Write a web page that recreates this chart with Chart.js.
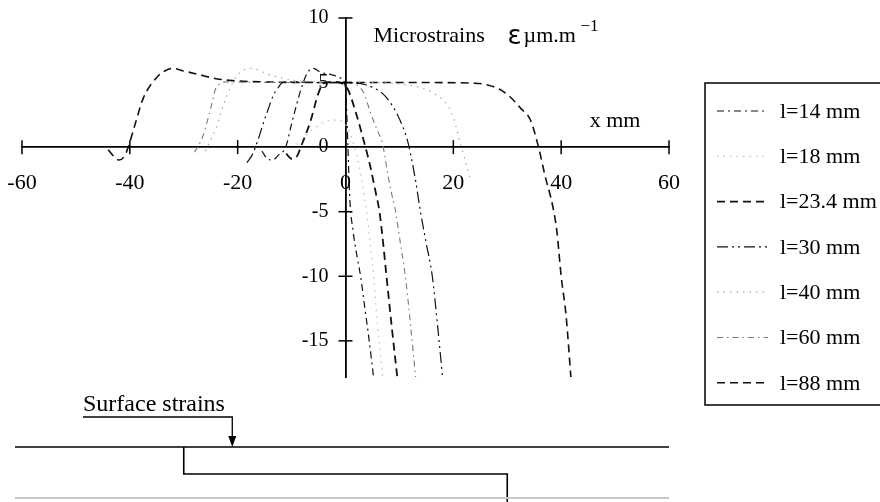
<!DOCTYPE html>
<html>
<head>
<meta charset="utf-8">
<script src="https://cdn.jsdelivr.net/npm/chart.js@4.4.1/dist/chart.umd.min.js"></script>
<style>
  html, body { margin: 0; padding: 0; background: #fff; }
  #wrap { width: 880px; height: 502px; }
</style>
</head>
<body>
<div id="wrap"><canvas id="strainChart" width="880" height="502"></canvas></div>
<script>
// legend labels and axis ticks
const labels = ["l=14 mm", "l=18 mm", "l=23.4 mm", "l=30 mm", "l=40 mm", "l=60 mm", "l=88 mm"];
const xTicks = [-60, -40, -20, 0, 20, 40, 60];
const yTicks = [-15, -10, -5, 0, 5, 10];

// curves (x in mm, microstrain)
const x14 = [-15.5, -14.5, -13.5, -12.4, -11.1, -10, -9, -8, -7, -6, -4.6, -2.5, -0.9, 0, 0.2, 0.45, 0.8, 1.4, 2.2, 2.8, 3.6, 4.4, 5.2];
const y14 = [-0.3, -0.9, -1.0, -0.6, 0, 1.8, 3.4, 4.8, 5.8, 6.1, 5.8, 5.6, 5.35, 4.6, 3.0, 0, -4, -6.5, -8.6, -10, -12.5, -15, -17.8];

const x18 = [-9, -6, -3.5, -1.5, 0.5, 2, 3, 3.9, 4.6, 5.2, 6, 6.9];
const y18 = [0.2, 1.4, 2.0, 2.1, 1.4, -0.5, -2.5, -5, -7.5, -10, -14, -17.8];

const x23 = [-11, -10, -9, -8.3, -6.5, -5, -4, -2, -1, 0.4, 1.9, 3.7, 4.6, 5.5, 6.3, 7.0, 7.6, 8.6, 9.6];
const y23 = [-0.5, -0.9, -0.7, 0, 2.0, 4.2, 4.95, 5.05, 5.0, 4.5, 2.7, 0, -1.5, -3.3, -5, -7.5, -10, -14, -17.8];

const x30 = [-18.3, -17.3, -16.2, -15.2, -14.2, -13.4, -12.5, -11.7, -9, -5, 0, 2, 3.5, 5.2, 7, 8.7, 10.2, 11.5, 12.2, 13, 13.9, 15, 16.1, 17, 18];
const y30 = [-1.2, -0.6, 0.6, 1.9, 3.1, 4.0, 4.6, 5.0, 5.05, 5.0, 5.0, 4.95, 4.85, 4.6, 4.1, 3.2, 2.0, 0.5, -0.8, -2.6, -5, -7.5, -10, -13.5, -17.8];

const x40 = [-26, -24, -22, -20, -17.6, -14, -10, -5, 0, 5, 10, 14, 17, 19, 20, 21.5, 22.6, 23.2];
const y40 = [-0.3, 1.5, 4.0, 5.6, 6.1, 5.6, 5.2, 5.05, 5.0, 5.0, 4.9, 4.6, 4.0, 3.2, 2.3, 0, -1.6, -2.6];

const x60 = [-28, -26.5, -25, -24, -22, -15, -5, 0, 2.2, 3.5, 4.6, 5.8, 6.9, 7.8, 8.5, 9.3, 10.2, 11.1, 12, 13];
const y60 = [-0.4, 0.8, 3.0, 4.6, 5.05, 5.0, 5.0, 5.0, 4.8, 4.1, 2.7, 1.4, 0.2, -2.0, -3.5, -5, -7.5, -10, -13.5, -17.8];

const x88 = [-44, -43, -42, -41, -40.3, -39, -37.5, -35, -33.5, -32, -30, -27, -24, -21, -15, -5, 5, 15, 24, 26.5, 28.5, 30.5, 32.5, 34.3, 35.8, 37, 38.4, 39.2, 40, 40.9, 41.8];
const y88 = [-0.2, -0.7, -1.0, -0.7, 0, 1.8, 3.8, 5.4, 5.9, 6.1, 5.9, 5.6, 5.3, 5.15, 5.05, 5.0, 5.0, 5.0, 4.95, 4.8, 4.5, 3.9, 3.0, 2.1, 0, -2.2, -4.5, -6.5, -10, -13, -17.8];

const seriesX = [x14, x18, x23, x30, x40, x60, x88];
const seriesY = [y14, y18, y23, y30, y40, y60, y88];

const styles = [
  { color: "#111", width: 1.2, dash: [7, 4, 2, 4] },
  { color: "#bdbdbd", width: 1.2, dash: [1.5, 5] },
  { color: "#111", width: 1.8, dash: [8, 5] },
  { color: "#111", width: 1.2, dash: [11, 4, 2, 4, 2, 4] },
  { color: "#a8a8a8", width: 1.2, dash: [1.5, 5] },
  { color: "#7a7a7a", width: 1.1, dash: [6, 4, 1.5, 4] },
  { color: "#111", width: 1.6, dash: [8, 5] }
];

const datasets = labels.map((lab, i) => ({
  label: lab,
  data: seriesX[i].map((v, j) => ({ x: v, y: seriesY[i][j] })),
  borderColor: styles[i].color,
  borderWidth: styles[i].width,
  borderDash: styles[i].dash,
  pointRadius: 0,
  fill: false,
  cubicInterpolationMode: "monotone"
}));

// tick crosses, axis caption, boxed legend and the schematic below
const decor = {
  id: "decor",
  afterDraw(chart) {
    const { ctx, chartArea, scales } = chart;
    const xs = scales.x, ys = scales.y;
    const x0 = xs.getPixelForValue(0), y0 = ys.getPixelForValue(0);
    ctx.save();
    ctx.strokeStyle = "#000";
    ctx.lineWidth = 1.5;
    ctx.setLineDash([]);
    xTicks.forEach(v => {
      if (v === 0) return;
      const px = xs.getPixelForValue(v);
      ctx.beginPath(); ctx.moveTo(px, y0 - 7); ctx.lineTo(px, y0 + 7); ctx.stroke();
    });
    yTicks.forEach(v => {
      if (v === 0) return;
      const py = ys.getPixelForValue(v);
      ctx.beginPath(); ctx.moveTo(x0 - 7, py); ctx.lineTo(x0 + 7, py); ctx.stroke();
    });

    // axis captions
    ctx.fillStyle = "#000";
    ctx.textBaseline = "alphabetic";
    ctx.textAlign = "left";
    ctx.font = "22px 'Liberation Serif'";
    ctx.fillText("Microstrains", x0 + 28, 42);
    ctx.font = "26px 'DejaVu Sans'";
    ctx.fillText("\u03B5", x0 + 162, 44);
    ctx.font = "22px 'Liberation Serif'";
    ctx.fillText("\u00B5m.m", x0 + 178, 42);
    ctx.font = "17px 'Liberation Serif'";
    ctx.fillText("\u22121", x0 + 235, 31);
    ctx.font = "22px 'Liberation Serif'";
    ctx.textAlign = "center";
    ctx.fillText("x mm", xs.getPixelForValue(50), y0 - 20);

    // boxed legend
    const lx = 705, ly = 83, lh = 322;
    ctx.lineWidth = 1.5;
    ctx.strokeStyle = "#000";
    ctx.strokeRect(lx, ly, 200, lh);
    ctx.textAlign = "left";
    ctx.textBaseline = "middle";
    ctx.font = "22px 'Liberation Serif'";
    chart.data.datasets.forEach((ds, i) => {
      const cy = 111 + i * 45.3;
      ctx.save();
      ctx.strokeStyle = ds.borderColor;
      ctx.lineWidth = ds.borderWidth;
      ctx.setLineDash(ds.borderDash);
      ctx.beginPath(); ctx.moveTo(lx + 12, cy); ctx.lineTo(lx + 63, cy); ctx.stroke();
      ctx.restore();
      ctx.fillText(ds.label, lx + 75, cy + 1);
    });

    // schematic of the surface below the plot
    const base = 447;
    const left = chartArea.left - 7, right = chartArea.right;
    ctx.setLineDash([]);
    ctx.strokeStyle = "#000";
    ctx.lineWidth = 1.6;
    ctx.beginPath(); ctx.moveTo(left, base); ctx.lineTo(right, base); ctx.stroke();
    const sx1 = xs.getPixelForValue(-30), sx2 = xs.getPixelForValue(30);
    ctx.beginPath();
    ctx.moveTo(sx1, base); ctx.lineTo(sx1, 474); ctx.lineTo(sx2, 474); ctx.lineTo(sx2, 505);
    ctx.stroke();
    ctx.strokeStyle = "#c8c8c8";
    ctx.lineWidth = 2;
    ctx.beginPath(); ctx.moveTo(left, 498); ctx.lineTo(right, 498); ctx.stroke();

    const ax = xs.getPixelForValue(-21);
    ctx.strokeStyle = "#000";
    ctx.lineWidth = 1.3;
    ctx.beginPath(); ctx.moveTo(83, 417); ctx.lineTo(ax, 417); ctx.lineTo(ax, 438); ctx.stroke();
    ctx.fillStyle = "#000";
    ctx.beginPath(); ctx.moveTo(ax - 4, 436); ctx.lineTo(ax + 4, 436); ctx.lineTo(ax, base); ctx.closePath(); ctx.fill();
    ctx.font = "24px 'Liberation Serif'";
    ctx.textBaseline = "alphabetic";
    ctx.textAlign = "left";
    ctx.fillText("Surface strains", 83, 411);
    ctx.restore();
  }
};

Chart.defaults.font.family = "'Liberation Serif'";
Chart.defaults.color = "#000";

const yMin = -17.8, yMax = 10;
// keep the label overhang from pushing the plot area in
const noPad = s => { s.paddingLeft = 0; s.paddingRight = 0; s.paddingTop = 0; s.paddingBottom = 0; };

new Chart(document.getElementById("strainChart"), {
  type: "line",
  data: { datasets: datasets },
  options: {
    responsive: false,
    animation: false,
    devicePixelRatio: 1,
    layout: { padding: { left: 22, right: 211, top: 18, bottom: 125 } },
    plugins: { legend: { display: false }, tooltip: { enabled: false } },
    scales: {
      x: {
        type: "linear",
        min: -60,
        max: 60,
        position: { y: 0 },
        afterBuildTicks: s => { s.ticks = xTicks.map(v => ({ value: v })); },
        afterFit: noPad,
        grid: { display: false, drawTicks: false },
        border: { display: true, color: "#000", width: 1.8 },
        ticks: { font: { size: 22 }, padding: 23, maxRotation: 0 }
      },
      y: {
        type: "linear",
        min: yMin,
        max: yMax,
        position: { x: 0 },
        afterBuildTicks: s => { s.ticks = yTicks.map(v => ({ value: v })); },
        afterFit: noPad,
        grid: { display: false, drawTicks: false },
        border: { display: true, color: "#000", width: 1.8 },
        ticks: { display: false }
      },
      // label-only axis, set just left of the y axis line
      yLabels: {
        type: "linear",
        axis: "y",
        min: yMin,
        max: yMax,
        position: { x: -3.15 },
        afterBuildTicks: s => { s.ticks = yTicks.map(v => ({ value: v })); },
        afterFit: noPad,
        grid: { display: false, drawTicks: false },
        border: { display: false },
        ticks: { font: { size: 20 }, padding: 0 }
      }
    }
  },
  plugins: [decor]
});
</script>
</body>
</html>
